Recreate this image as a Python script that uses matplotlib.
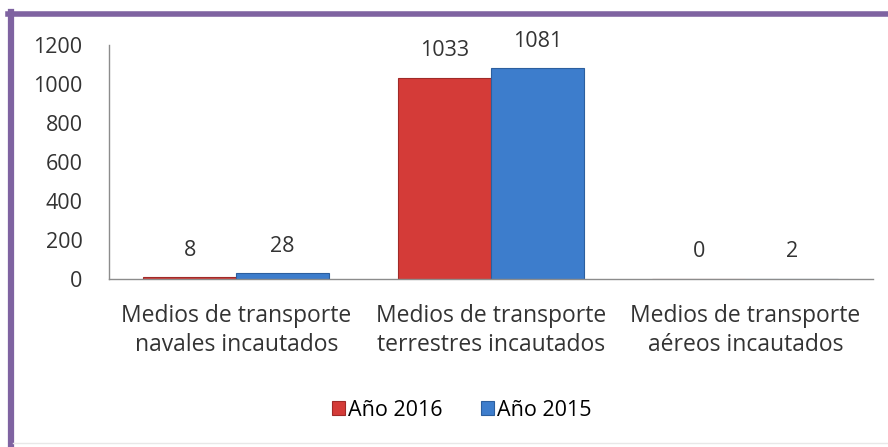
import matplotlib.pyplot as plt
import matplotlib.lines as mlines
import numpy as np

CATEGORIES = ["Medios de transporte\nnavales incautados",
              "Medios de transporte\nterrestres incautados",
              "Medios de transporte\naéreos incautados"]
SERIES = ["Año 2016", "Año 2015"]
VALUES_2016 = [8, 1033, 0]
VALUES_2015 = [28, 1081, 2]
COLORS = ["#d43b38", "#3d7dcc"]
EDGES = ["#a02a28", "#2c5f9e"]
YTICKS = [0, 200, 400, 600, 800, 1000, 1200]

plt.rcParams["font.family"] = ["Open Sans", "DejaVu Sans"]
FS = 15.5
TXT = "#333333"

fig = plt.figure(figsize=(8.88, 4.47), dpi=100)
ax = fig.add_axes([0.1227, 0.376, 0.860, 0.523])

x = np.arange(len(CATEGORIES))
w = 0.365
for vals, off, c, ec, lab in zip([VALUES_2016, VALUES_2015], [-w / 2, w / 2],
                                  COLORS, EDGES, SERIES):
    bars = ax.bar(x + off, vals, w, color=c, edgecolor=ec, linewidth=0.8, label=lab)
    for b, v in zip(bars, vals):
        ax.annotate(str(v), (b.get_x() + b.get_width() / 2, v),
                    xytext=(0, 19.5), textcoords="offset points",
                    ha="center", va="center", fontsize=FS, color=TXT)

ax.set_xlim(-0.5, 2.5)
ax.set_ylim(0, 1200)
ax.set_yticks(YTICKS)
ax.set_yticklabels([str(t) for t in YTICKS], fontsize=FS, color=TXT)
ax.set_xticks(x)
ax.set_xticklabels(CATEGORIES, fontsize=16.5, color=TXT, linespacing=1.3)
ax.tick_params(axis="both", length=0)
ax.tick_params(axis="y", pad=19)
ax.tick_params(axis="x", pad=18)
for s in ["top", "right"]:
    ax.spines[s].set_visible(False)
for s in ["left", "bottom"]:
    ax.spines[s].set_color("#8c8c8c")
    ax.spines[s].set_linewidth(1)

ax.legend(loc="center", bbox_to_anchor=(0.52, 1 - 410 / 447), bbox_transform=fig.transFigure,
          ncol=2, frameon=False, fontsize=FS, handlelength=0.6, handleheight=0.6,
          handletextpad=0.15, columnspacing=1.8)

# purple frame
purple = "#7f63a1"
fig.add_artist(mlines.Line2D([8 / 888, 1], [1 - 13.5 / 447, 1 - 13.5 / 447],
                             transform=fig.transFigure, color=purple, lw=4))
fig.add_artist(mlines.Line2D([11 / 888, 11 / 888], [0, 1 - 11.5 / 447],
                             transform=fig.transFigure, color=purple, lw=4.5))
fig.add_artist(mlines.Line2D([13 / 888, 1], [1 - 443 / 447, 1 - 443 / 447],
                             transform=fig.transFigure, color="#e8e8e8", lw=1))

fig.savefig("out.png", dpi=100)
